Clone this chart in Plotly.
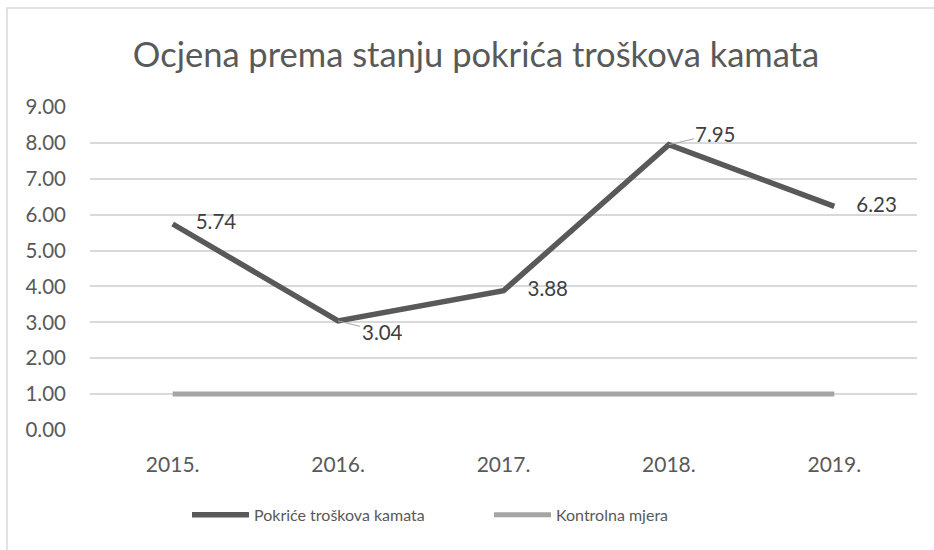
import plotly.graph_objects as go

years = ["2015.", "2016.", "2017.", "2018.", "2019."]
pokrice = [5.74, 3.04, 3.88, 7.95, 6.23]
kontrolna = [1.00, 1.00, 1.00, 1.00, 1.00]
y_ticks = [0, 1, 2, 3, 4, 5, 6, 7, 8, 9]

FONT = "Lato"
TXT = "#595959"
LBL = "#404040"

fig = go.Figure()
fig.add_trace(go.Scatter(
    x=years, y=pokrice, mode="lines", name="Pokriće troškova kamata",
    line=dict(color="#595959", width=5.5), hoverinfo="skip",
))
fig.add_trace(go.Scatter(
    x=years, y=kontrolna, mode="lines", name="Kontrolna mjera",
    line=dict(color="#A5A5A5", width=5), hoverinfo="skip",
))

# plain data labels (right of point); invisible marker sets the text gap
plain = [True, False, True, False, True]
gap_size = [35.2, 10, 36.8, 10, 33.6]
fig.add_trace(go.Scatter(
    x=years, y=pokrice, mode="markers+text",
    text=[f"{v:.2f}" if p else "" for v, p in zip(pokrice, plain)],
    textposition="middle right",
    textfont=dict(family=FONT, size=20.5, color=LBL),
    marker=dict(size=gap_size, opacity=0),
    showlegend=False, hoverinfo="skip",
))

# labels with leader lines
leader = {1: (44, 11), 3: (47, -11)}
for i, (ax_, ay_) in leader.items():
    fig.add_annotation(x=i, y=pokrice[i], xref="x", yref="y",
                       text=f"{pokrice[i]:.2f}", showarrow=True,
                       arrowhead=0, arrowwidth=1, arrowcolor="#A6A6A6",
                       ax=ax_, ay=ay_, standoff=0,
                       font=dict(family=FONT, size=20.5, color=LBL))

fig.add_shape(type="rect", xref="paper", yref="paper",
              x0=-0.1004, x1=1.03, y0=-0.45, y1=1.3065,
              line=dict(color="#D9D9D9", width=1.5), fillcolor="rgba(0,0,0,0)",
              layer="below")

fig.update_layout(
    width=934, height=550,
    margin=dict(l=90, r=17, t=107, b=120, autoexpand=False),
    paper_bgcolor="white", plot_bgcolor="white",
    title=dict(text="Ocjena prema stanju pokrića troškova kamata",
               x=0.5096, xanchor="center", y=0.9, yanchor="middle", yref="container",
               font=dict(family=FONT, size=34.5, color=TXT)),
    font=dict(family=FONT, color=TXT),
    xaxis=dict(type="category", range=[-0.5, 4.5], showgrid=False, zeroline=False,
               showline=False, tickfont=dict(family=FONT, size=21, color=TXT),
               ticklabelstandoff=20, fixedrange=True, automargin=False),
    yaxis=dict(range=[0, 9], tickvals=y_ticks,
               ticktext=[f"{v:.2f}" for v in y_ticks],
               showgrid=True, gridcolor="#D9D9D9", gridwidth=1.5,
               zeroline=False, showline=False,
               tickfont=dict(family=FONT, size=20.5, color=TXT),
               ticklabelstandoff=23, fixedrange=True, automargin=False),
    legend=dict(orientation="h", x=(187 - 90) / 827, xanchor="left",
                y=-0.263, yanchor="middle",
                font=dict(family=FONT, size=16, color=TXT),
                itemwidth=57, entrywidth=230, entrywidthmode="pixels"),
    showlegend=True,
)

fig.write_html("out.html", config={"displayModeBar": False},
               post_script="document.body.style.margin='0';")
